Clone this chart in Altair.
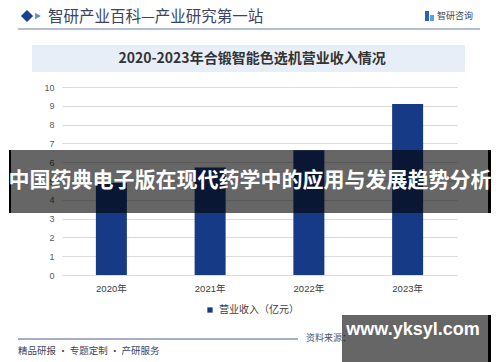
import altair as alt
import pandas as pd

years = ["2020年", "2021年", "2022年", "2023年"]
revenue = [4.9, 5.72, 6.64, 9.1]
series_name = "营业收入（亿元）"
y_ticks = list(range(0, 11))

header_text = "智研产业百科—产业研究第一站"
logo_text = "智研咨询"
chart_title = "2020-2023年合锻智能色选机营业收入情况"
source_text = "资料来源："
footer_text = "精品研报 · 专题定制 · 产研服务"
banner_text = "中国药典电子版在现代药学中的应用与发展趋势分析"
site_text = "www.yksyl.com"

CJK = "Noto Sans CJK SC"
LAT = "Liberation Sans, Noto Sans CJK SC"

df = pd.DataFrame({"year": years, "value": revenue, "series": [series_name] * len(years)})
one = pd.DataFrame({"k": [0]})

W, H = 395, 188


def rect(x, x2, y, y2, color, opacity=1.0):
    return alt.Chart(one).mark_rect(color=color, opacity=opacity).encode(
        x=alt.value(x), x2=alt.value(x2), y=alt.value(y), y2=alt.value(y2))


def text(t, x, y, size, color, align="left", weight="normal", font=CJK):
    return alt.Chart(one).mark_text(
        text=t, align=align, baseline="middle", fontSize=size, color=color,
        fontWeight=weight, font=font).encode(x=alt.value(x), y=alt.value(y))


def rule(x, x2, y, color, width):
    return alt.Chart(one).mark_rule(color=color, strokeWidth=width).encode(
        x=alt.value(x), x2=alt.value(x2), y=alt.value(y))


# header
diamond = alt.Chart(one).mark_point(shape="diamond", filled=True, size=150, color="#1d3f8f", opacity=1).encode(
    x=alt.value(-35), y=alt.value(-71))
tri = alt.Chart(one).mark_point(shape="triangle-right", filled=True, size=45, color="#6a8ccc", opacity=1).encode(
    x=alt.value(-24), y=alt.value(-71))
header = text(header_text, -14, -70, 15.5, "#3a4562")
logo_a = rect(363, 367, -76, -66, "#2f5fb3")
logo_b = rect(368, 372, -72, -66, "#5aa0e0")
logo = text(logo_text, 375, -71, 9, "#3a4562")
hline = rule(-44, 418, -58, "#9aa8c4", 1.5)

title_box = rect(-30, 403, -42, -15, "#e8eef8")
title = text(chart_title, 190, -28, 14, "#333333", align="center", weight="bold")

bars = alt.Chart(df).mark_bar(size=31).encode(
    x=alt.X("year:N", sort=years, title=None,
            scale=alt.Scale(paddingInner=0.686, paddingOuter=0.343),
            axis=alt.Axis(labelAngle=0, domain=False, ticks=False, labelPadding=8,
                          labelFontSize=9.5, labelColor="#404040", labelFont=LAT)),
    y=alt.Y("value:Q", title=None, scale=alt.Scale(domain=[0, 10]),
            axis=alt.Axis(values=y_ticks, domain=False, ticks=False, labelPadding=8,
                          labelFontSize=9, labelColor="#595959", labelFont=LAT,
                          gridColor="#dcdcdc", gridWidth=1)),
    color=alt.Color("series:N", scale=alt.Scale(range=["#173a86"]),
                    legend=alt.Legend(orient="none", legendX=143, legendY=218, title=None,
                                      symbolType="square", symbolSize=28, labelFontSize=10,
                                      labelColor="#404040", labelFont=CJK, symbolStrokeWidth=0)),
)

bline = rule(-44, 236, 252, "#4a6090", 1)
source = text(source_text, 244, 251, 9, "#4a5570")
footer = text(footer_text, -44, 264, 9.5, "#3a4562")

banner1 = rect(-53, 429, 63, 126, "#000000", 0.6)
b1l = rect(-53, -51, 63, 126, "#000000")
b1r = rect(426, 429, 63, 126, "#000000")
banner1_t = text(banner_text, 188, 94, 21, "#ffffff", align="center", weight="bold")

banner2 = rect(280, 429, 228, 275, "#000000", 0.6)
b2r = rect(426, 429, 228, 275, "#000000")
banner2_t = text(site_text, 351, 243, 18, "#ffffff", align="center", weight="bold", font="Liberation Sans")

chart = alt.layer(
    diamond, tri, header, logo_a, logo_b, logo, hline, title_box, title,
    bars, bline, source, footer,
    banner1, b1l, b1r, banner1_t, banner2, b2r, banner2_t,
).properties(
    width=W, height=H,
    autosize=alt.AutoSizeParams(type="none"),
    padding={"left": 54, "top": 79, "right": 35, "bottom": 87},
    background="#ffffff",
).configure_view(stroke=None)

chart.save("out.html", embed_options={"renderer": "svg", "actions": False})
